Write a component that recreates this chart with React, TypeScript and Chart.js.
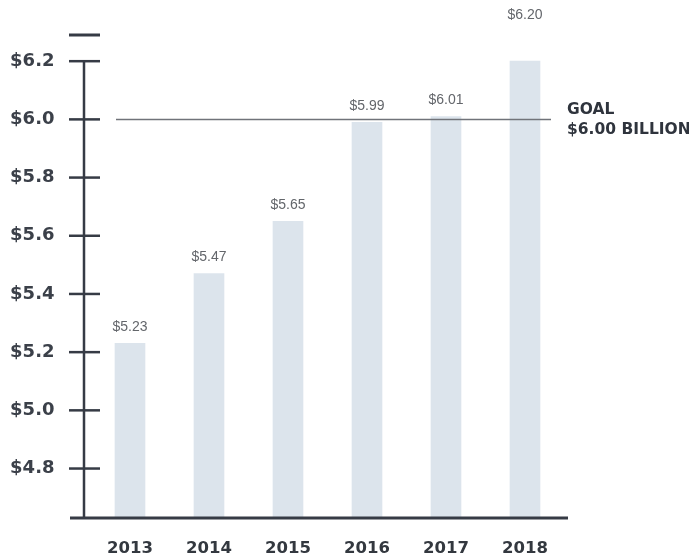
import { useEffect, useRef } from "react";
import { Chart, registerables } from "chart.js";

Chart.register(...registerables);

// Annual figures, in billions of dollars
const years = ["2013", "2014", "2015", "2016", "2017", "2018"];
const revenue = [5.23, 5.47, 5.65, 5.99, 6.01, 6.2];
const yTicks = [4.8, 5.0, 5.2, 5.4, 5.6, 5.8, 6.0, 6.2];
const goalValue = 6.0;
const goalLines = ["GOAL", "$6.00 BILLION"];

const AXIS_COLOR = "#363b45";
const BAR_COLOR = "#dce4ec";
const VALUE_COLOR = "#63666b";
const GOAL_LINE_COLOR = "#707379";

const fmtTick = (v: number) => "$" + v.toFixed(1);
const fmtValue = (v: number) => "$" + v.toFixed(2);

// Draws the crossing-tick axes, the goal line with its caption and the value labels
const decorPlugin = {
  id: "decor",
  afterDatasetsDraw(chart: any) {
    const { ctx, chartArea } = chart;
    const x = chart.scales.x;
    const y = chart.scales.y;
    const axisX = chartArea.left - 6.5;
    ctx.save();

    // goal line
    const gy = y.getPixelForValue(goalValue);
    ctx.strokeStyle = GOAL_LINE_COLOR;
    ctx.lineWidth = 1.5;
    ctx.beginPath();
    ctx.moveTo(x.getPixelForValue(0) - 14, gy);
    ctx.lineTo(x.getPixelForValue(years.length - 1) + 26, gy);
    ctx.stroke();

    // goal caption
    ctx.fillStyle = "#2f343d";
    ctx.font = "bold 15.5px 'DejaVu Sans'";
    ctx.textAlign = "left";
    ctx.textBaseline = "middle";
    ctx.fillText(goalLines[0], chartArea.right + 2.5, gy - 9);
    ctx.fillText(goalLines[1], chartArea.right + 2.5, gy + 11);

    // axes
    ctx.strokeStyle = AXIS_COLOR;
    ctx.lineCap = "butt";
    ctx.lineWidth = 2.5;
    const topTick = y.getPixelForValue(yTicks[yTicks.length - 1]);
    ctx.beginPath();
    ctx.moveTo(axisX, topTick);
    ctx.lineTo(axisX, chartArea.bottom);
    ctx.stroke();
    for (const t of yTicks) {
      const py = y.getPixelForValue(t);
      ctx.beginPath();
      ctx.moveTo(axisX - 15, py);
      ctx.lineTo(axisX + 16, py);
      ctx.stroke();
    }
    ctx.lineWidth = 3;
    ctx.beginPath();
    ctx.moveTo(axisX - 15, chartArea.top);
    ctx.lineTo(axisX + 16, chartArea.top);
    ctx.stroke();
    ctx.beginPath();
    ctx.moveTo(axisX - 14, chartArea.bottom);
    ctx.lineTo(chartArea.right + 3.5, chartArea.bottom);
    ctx.stroke();

    // value labels
    ctx.fillStyle = VALUE_COLOR;
    ctx.font = "14px 'Liberation Sans'";
    ctx.textAlign = "center";
    ctx.textBaseline = "middle";
    const topValue = yTicks[yTicks.length - 1];
    chart.getDatasetMeta(0).data.forEach((bar: any, i: number) => {
      const v = revenue[i];
      const ly = v >= topValue ? chartArea.top - 20 : bar.y - 16;
      ctx.fillText(fmtValue(v), bar.x, ly);
    });
    ctx.restore();
  },
};

export default function App() {
  const canvasRef = useRef<HTMLCanvasElement | null>(null);

  useEffect(() => {
    const canvas = canvasRef.current;
    if (!canvas) return;
    const chart = new Chart(canvas, {
      type: "bar",
      data: {
        labels: years,
        datasets: [
          {
            data: revenue,
            backgroundColor: BAR_COLOR,
            barThickness: 30,
            borderWidth: 0,
          },
        ],
      },
      options: {
        responsive: false,
        animation: false,
        devicePixelRatio: 1,
        layout: { padding: { top: 35, right: 124.5, bottom: 0, left: 0 } },
        plugins: {
          legend: { display: false },
          tooltip: { enabled: false },
        },
        scales: {
          x: {
            offset: true,
            grid: { display: false, drawTicks: false },
            border: { display: false },
            ticks: {
              padding: 21,
              color: "#33383f",
              font: { family: "'DejaVu Sans'", size: 16.5, weight: "bold" },
            },
            afterFit: (s: any) => {
              s.height = 41;
            },
          },
          y: {
            min: 4.63,
            max: 6.29,
            // invisible tick marks reserve the gap between labels and plot
            grid: {
              display: true,
              drawOnChartArea: false,
              drawTicks: true,
              tickLength: 36,
              color: "rgba(0,0,0,0)",
            },
            border: { display: false },
            afterBuildTicks: (s: any) => {
              s.ticks = yTicks.map((v) => ({ value: v }));
            },
            afterFit: (s: any) => {
              s.width = 90.5;
            },
            ticks: {
              padding: 0,
              color: "#3b4049",
              font: { family: "'DejaVu Sans'", size: 18, weight: "bold" },
              callback: (v: any) => fmtTick(Number(v)),
            },
          },
        },
      },
      plugins: [decorPlugin],
    });
    return () => chart.destroy();
  }, []);

  return (
    <div
      style={{
        position: "absolute",
        left: 0,
        top: 0,
        width: 689,
        height: 559,
        background: "#ffffff",
      }}
    >
      <canvas ref={canvasRef} width={689} height={559} />
    </div>
  );
}
